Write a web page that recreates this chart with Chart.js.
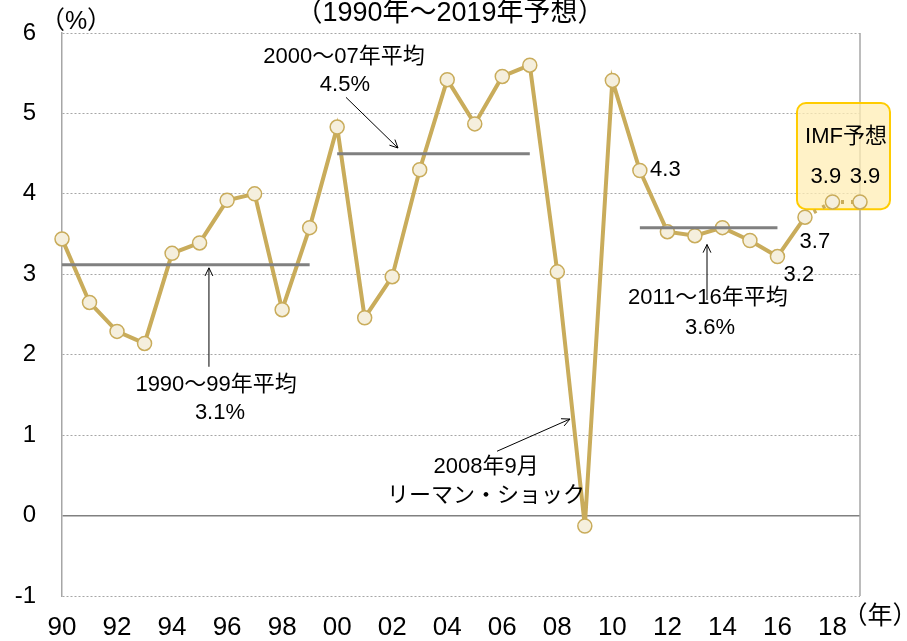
<!DOCTYPE html>
<html>
<head>
<meta charset="utf-8">
<script src="https://cdn.jsdelivr.net/npm/chart.js@4.4.1/dist/chart.umd.min.js"></script>
<style>
  html, body { margin: 0; padding: 0; background: #fff; }
  #wrap { width: 907px; height: 641px; position: relative; }
</style>
</head>
<body>
<div id="wrap"><canvas id="growthChart"></canvas></div>
<script>
// world growth, 1990-2019 (2018/19 = IMF forecast)
const years = [1990,1991,1992,1993,1994,1995,1996,1997,1998,1999,
  2000,2001,2002,2003,2004,2005,2006,2007,2008,2009,
  2010,2011,2012,2013,2014,2015,2016,2017,2018,2019];
const growth = [3.44,2.65,2.29,2.14,3.26,3.39,3.92,4.00,2.56,3.58,
  4.83,2.46,2.97,4.30,5.42,4.87,5.46,5.60,3.03,-0.13,
  5.41,4.29,3.53,3.48,3.58,3.42,3.22,3.71,3.90,3.90];
const forecastFrom = 27; // segments from 2017 on are dotted

// period averages: [first index, last index, value]
const avg90s = [0, 9, 3.12];
const avg00s = [10, 17, 4.5];
const avg10s = [21, 26, 3.58];

const FONT = '"Liberation Sans", Arial, "Noto Sans CJK JP", sans-serif';
const GOLD = '#C9AC5B';

function avgSeries(a) {
  return years.map((y, i) => (i >= a[0] && i <= a[1]) ? a[2] : null);
}

// notes: [text, x index, y value, align]
const notes = [
  ['2000～07年平均', 10.25, 5.70, 'center'],
  ['4.5%', 10.28, 5.35, 'center'],
  ['1990～99年平均', 5.6, 1.62, 'center'],
  ['3.1%', 5.74, 1.28, 'center'],
  ['2008年9月', 15.41, 0.60, 'center'],
  ['リーマン・ショック', 15.41, 0.25, 'center'],
  ['2011～16年平均', 23.47, 2.71, 'center'],
  ['3.6%', 23.55, 2.33, 'center'],
  ['4.3', 21.37, 4.30, 'left'],
  ['3.7', 27.36, 3.40, 'center'],
  ['3.2', 26.78, 2.99, 'center'],
  ['IMF予想', 28.49, 4.71, 'center'],
  ['3.9', 27.76, 4.21, 'center'],
  ['3.9', 29.18, 4.21, 'center']
];
// arrows: [from x, from y, to x, to y]
const arrows = [
  [10.32, 5.20, 12.21, 4.57],
  [5.34, 1.85, 5.34, 3.08],
  [15.81, 0.80, 18.46, 1.20],
  [23.44, 2.68, 23.44, 3.37]
];
const imfBox = [26.71, 5.13, 30.09, 3.81];

const decorPlugin = {
  id: 'decor',
  beforeDatasetsDraw(chart) {
    const {ctx, chartArea: a, scales: {x, y}} = chart;
    ctx.save();
    // right border
    ctx.strokeStyle = '#A6A6A6';
    ctx.lineWidth = 1.5;
    ctx.beginPath();
    ctx.moveTo(a.right, a.top);
    ctx.lineTo(a.right, a.bottom);
    ctx.stroke();
    // IMF box
    const bx = x.getPixelForValue(imfBox[0]), by = y.getPixelForValue(imfBox[1]);
    const bw = x.getPixelForValue(imfBox[2]) - bx, bh = y.getPixelForValue(imfBox[3]) - by;
    ctx.fillStyle = 'rgba(255,238,180,0.75)';
    ctx.strokeStyle = '#FFCC00';
    ctx.lineWidth = 2;
    ctx.beginPath();
    ctx.roundRect(bx, by, bw, bh, 9);
    ctx.fill();
    ctx.stroke();
    ctx.restore();
  },
  afterDatasetsDraw(chart) {
    const {ctx, scales: {x, y}} = chart;
    ctx.save();
    ctx.fillStyle = '#000';
    ctx.textBaseline = 'middle';
    ctx.font = '22px ' + FONT;
    notes.forEach(n => {
      ctx.textAlign = n[3];
      ctx.fillText(n[0], x.getPixelForValue(n[1]), y.getPixelForValue(n[2]));
    });
    ctx.strokeStyle = '#000';
    ctx.lineWidth = 1;
    arrows.forEach(ar => {
      const x0 = x.getPixelForValue(ar[0]), y0 = y.getPixelForValue(ar[1]);
      const x1 = x.getPixelForValue(ar[2]), y1 = y.getPixelForValue(ar[3]);
      const ang = Math.atan2(y1 - y0, x1 - x0);
      ctx.beginPath();
      ctx.moveTo(x0, y0);
      ctx.lineTo(x1, y1);
      ctx.moveTo(x1 - 9 * Math.cos(ang - 0.45), y1 - 9 * Math.sin(ang - 0.45));
      ctx.lineTo(x1, y1);
      ctx.lineTo(x1 - 9 * Math.cos(ang + 0.45), y1 - 9 * Math.sin(ang + 0.45));
      ctx.stroke();
    });
    // titles / units
    ctx.font = '27px ' + FONT;
    ctx.textAlign = 'center';
    ctx.fillText('（1990年～2019年予想）', 450, 14);
    ctx.font = '25px ' + FONT;
    ctx.fillText('（%）', 76, 22);
    ctx.fillText('（年）', 880, 617);
    ctx.restore();
  }
};

new Chart(document.getElementById('growthChart'), {
  type: 'line',
  data: {
    labels: years,
    datasets: [
      {
        data: growth,
        order: 2,
        borderColor: GOLD,
        borderWidth: 4,
        pointRadius: 7,
        pointBackgroundColor: '#F5EFDD',
        pointBorderColor: GOLD,
        pointBorderWidth: 1.5,
        tension: 0,
        segment: {
          borderDash: c => c.p0DataIndex >= forecastFrom ? [3, 7] : undefined
        }
      },
      { data: avgSeries(avg90s), order: 1, borderColor: '#808080', borderWidth: 3, pointRadius: 0 },
      { data: avgSeries(avg00s), order: 1, borderColor: '#808080', borderWidth: 3, pointRadius: 0 },
      { data: avgSeries(avg10s), order: 1, borderColor: '#808080', borderWidth: 3, pointRadius: 0 }
    ]
  },
  options: {
    responsive: true,
    maintainAspectRatio: false,
    animation: false,
    layout: { padding: { top: 33, right: 47, left: 0, bottom: 0 } },
    plugins: { legend: { display: false }, tooltip: { enabled: false } },
    scales: {
      x: {
        type: 'category',
        offset: false,
        afterFit(s) { s.height = 45; s.paddingLeft = 0; s.paddingRight = 0; },
        grid: { display: false, drawTicks: false },
        border: { display: false },
        ticks: {
          autoSkip: false,
          maxRotation: 0,
          padding: 16,
          color: '#000',
          font: { size: 26, family: FONT },
          callback(v, i) {
            const yr = years[i];
            return yr % 2 === 0 ? String(yr).slice(2) : '';
          }
        }
      },
      y: {
        min: -1,
        max: 6,
        afterFit(s) { s.width = 62; s.paddingTop = 0; s.paddingBottom = 0; },
        border: {
          display: true, color: '#A6A6A6', width: 1.5,
          dash: c => (c.tick && c.tick.value === 0) ? [] : [2, 2]
        },
        grid: {
          drawTicks: false,
          color: c => c.tick.value === 0 ? '#808080' : '#A6A6A6',
          lineWidth: c => c.tick.value === 0 ? 1.5 : 1
        },
        ticks: {
          stepSize: 1,
          padding: 26,
          color: '#000',
          font: { size: 24, family: FONT }
        }
      }
    }
  },
  plugins: [decorPlugin]
});
</script>
</body>
</html>
